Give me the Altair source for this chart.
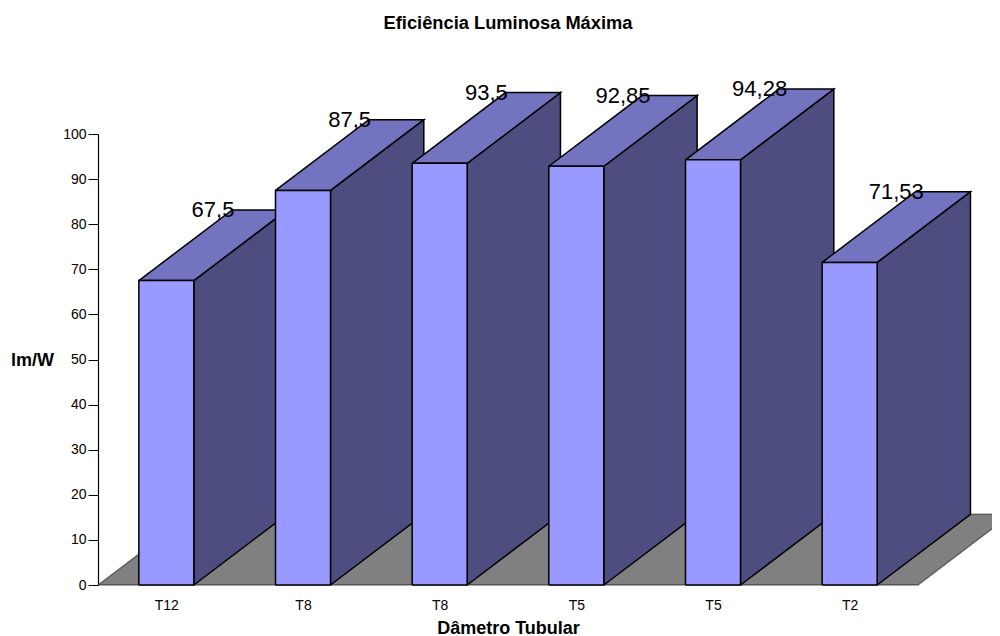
import json
import altair as alt
import pandas as pd

categories = ["T12", "T8", "T8", "T5", "T5", "T2"]
values = [67.5, 87.5, 93.5, 92.85, 94.28, 71.53]
value_labels = ["67,5", "87,5", "93,5", "92,85", "94,28", "71,53"]

HALF = 27.5 / 136.67   # half bar width, in category units
DX = 93.3 / 136.67     # oblique depth, in category units
DY = 70.7 / 4.51       # oblique depth, in value units
FONT = "Liberation Sans"
FACE_NAMES = ["floor", "side", "top", "front"]
FACE_COLORS = ["#808080", "#4D4D80", "#7373BF", "#9999FF"]

rows = []
def poly(pid, face, pts):
    for k, (x, y) in enumerate(list(pts) + [pts[0]]):
        rows.append(dict(pid=pid, face=face, k=k, x=x, y=y))

n = len(values)
poly("a_floor", "floor", [(0, 0), (n, 0), (n + DX, DY), (DX, DY)])
for i, v in enumerate(values):
    x0, x1 = i + 0.5 - HALF, i + 0.5 + HALF
    p = f"b{i}"
    poly(p + "_1side", "side", [(x1, 0), (x1 + DX, DY), (x1 + DX, v + DY), (x1, v)])
    poly(p + "_2top", "top", [(x0, v), (x1, v), (x1 + DX, v + DY), (x0 + DX, v + DY)])
    poly(p + "_3front", "front", [(x0, 0), (x1, 0), (x1, v), (x0, v)])
df = pd.DataFrame(rows)

labels = pd.DataFrame({
    "x": [i + 0.5 + DX / 2 for i in range(n)],
    "y": [v + DY for v in values],
    "t": value_labels,
})

xs = alt.Scale(domain=[0, n], nice=False, zero=False)
ys = alt.Scale(domain=[0, 100], nice=False)

x_axis = alt.Axis(
    values=[i + 0.5 for i in range(n)],
    labelExpr=json.dumps(categories) + "[floor(datum.value)]",
    ticks=False, domain=False, grid=False, labelPadding=13, labelFontSize=14, labelFont=FONT,
    labelColor="black", title="Dâmetro Tubular", titleFont=FONT, titleFontSize=18,
    titleFontWeight="bold", titleColor="black", titlePadding=7,
)
y_axis = alt.Axis(
    values=list(range(0, 101, 10)), grid=False, tickSize=10, tickColor="black", tickWidth=1,
    domainColor="black", domainWidth=1.2, labelFontSize=14, labelFont=FONT, labelColor="black",
    labelPadding=2, title="lm/W", titleFont=FONT, titleFontSize=18, titleFontWeight="bold",
    titleColor="black", titleAngle=0, titleX=-66, titleY=226, titleBaseline="middle", titleAlign="center",
)

faces = alt.Chart(df).mark_line(stroke="black", strokeWidth=1.5, strokeJoin="miter").encode(
    x=alt.X("x:Q", scale=xs, axis=x_axis),
    y=alt.Y("y:Q", scale=ys, axis=y_axis),
    detail="pid:N",
    order="k:Q",
    fill=alt.Fill("face:N", scale=alt.Scale(domain=FACE_NAMES, range=FACE_COLORS), legend=None),
    strokeOpacity=alt.condition(alt.datum.face == "floor", alt.value(0.45), alt.value(1)),
)

text = alt.Chart(labels).mark_text(font=FONT, fontSize=22, color="black", baseline="middle", align="center").encode(
    x=alt.X("x:Q", scale=xs), y=alt.Y("y:Q", scale=ys), text="t:N"
)

chart = (faces + text).properties(
    width=820, height=451,
    padding={"left": 90, "top": 126, "right": 74, "bottom": 51},
    autosize=alt.AutoSizeParams(type="none"),
    title=alt.TitleParams("Eficiência Luminosa Máxima", font=FONT, fontSize=18.3, fontWeight="bold",
                          color="black", anchor="middle", offset=45),
).configure_view(stroke=None)

chart.save("out.html", embed_options={"renderer": "svg", "actions": False})
